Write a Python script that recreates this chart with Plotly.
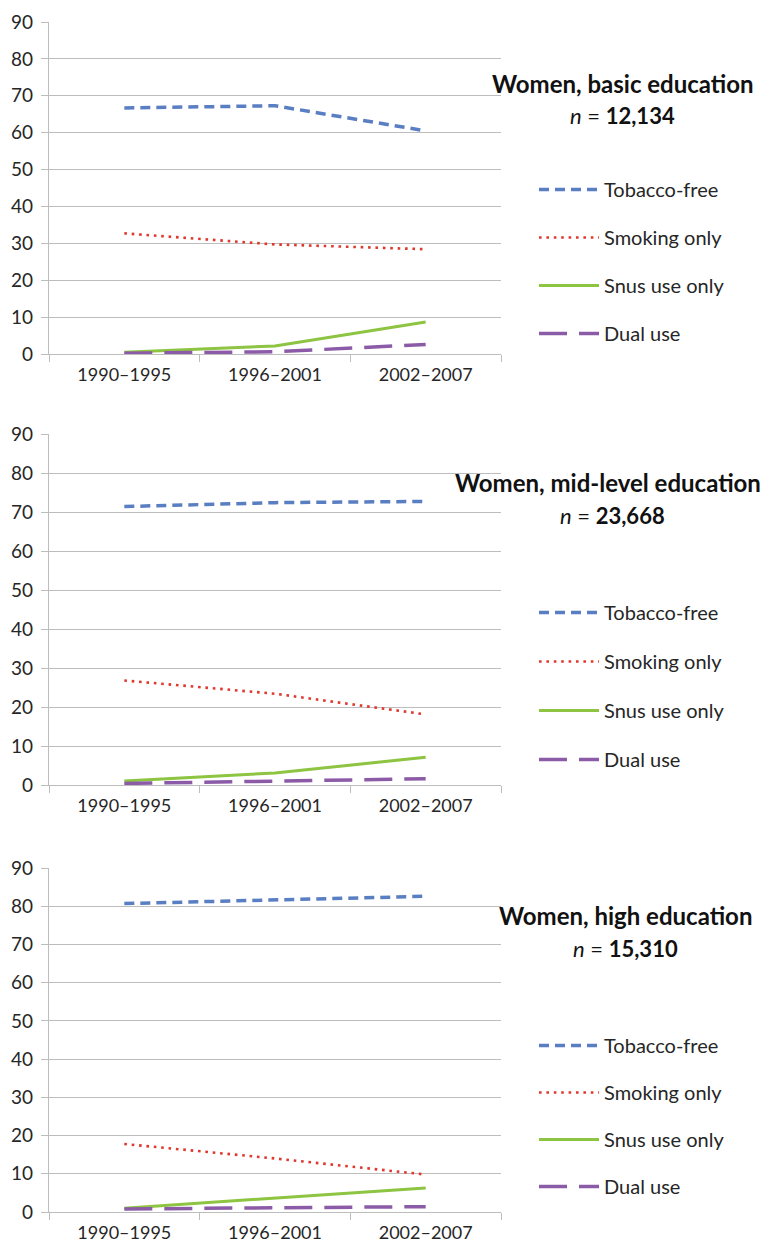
import plotly.graph_objects as go

# ---------------- data ----------------
periods = ["1990–1995", "1996–2001", "2002–2007"]
series_names = ["Tobacco-free", "Smoking only", "Snus use only", "Dual use"]
panel_titles = ["Women, basic education", "Women, mid-level education", "Women, high education"]
panel_n = ["12,134", "23,668", "15,310"]
y_ticks = [0, 10, 20, 30, 40, 50, 60, 70, 80, 90]

basic_tobacco_free = [66.7, 67.3, 60.5]
basic_smoking_only = [32.7, 29.7, 28.4]
basic_snus_only = [0.5, 2.2, 8.7]
basic_dual_use = [0.2, 0.6, 2.6]

mid_tobacco_free = [71.4, 72.4, 72.7]
mid_smoking_only = [26.8, 23.4, 18.1]
mid_snus_only = [1.0, 3.1, 7.1]
mid_dual_use = [0.4, 1.0, 1.6]

high_tobacco_free = [80.7, 81.6, 82.6]
high_smoking_only = [17.8, 14.0, 9.8]
high_snus_only = [1.0, 3.7, 6.3]
high_dual_use = [0.8, 1.0, 1.4]

panels = [
    [basic_tobacco_free, basic_smoking_only, basic_snus_only, basic_dual_use],
    [mid_tobacco_free, mid_smoking_only, mid_snus_only, mid_dual_use],
    [high_tobacco_free, high_smoking_only, high_snus_only, high_dual_use],
]

# ---------------- styles ----------------
W, H = 772, 1244
FONT = "Lato, 'Open Sans', sans-serif"
TEXT = "#262626"
GRID = "#BDBDBD"
line_styles = [
    dict(color="#5A7EC2", width=3.5, dash="10px,6px"),
    dict(color="#E0372E", width=2.6, dash="2.6px,4.8px"),
    dict(color="#8DC441", width=3.0, dash="solid"),
    dict(color="#8B5BA7", width=3.5, dash="28px,12px"),
]

# plot areas in pixels (top, bottom)
plot_left, plot_right = 49, 501
panel_px = [(22, 354), (434, 785), (868, 1212)]
legend_top_px = [170, 593, 1026]
legend_gap = [19, 20, 18]
title_pos = [((623, 83), (622, 115)), ((608, 482), (612, 515)), ((625, 915), (625, 948))]

fig = go.Figure()
legend_keys = ["legend", "legend2", "legend3"]

for p, series in enumerate(panels):
    ax = "" if p == 0 else str(p + 1)
    for s, vals in enumerate(series):
        fig.add_trace(go.Scatter(
            x=periods, y=vals, mode="lines", name=series_names[s],
            line=line_styles[s], xaxis="x" + ax, yaxis="y" + ax,
            legend=legend_keys[p], legendgroup=f"p{p}s{s}",
            showlegend=True, hoverinfo="skip",
        ))

layout = dict(
    width=W, height=H,
    margin=dict(l=0, r=0, t=0, b=0, autoexpand=False),
    paper_bgcolor="white", plot_bgcolor="white",
    font=dict(family=FONT, color=TEXT),
    annotations=[],
)

for p in range(3):
    ax = "" if p == 0 else str(p + 1)
    top, bot = panel_px[p]
    layout["xaxis" + ax] = dict(
        domain=[plot_left / W, plot_right / W], anchor="y" + ax,
        type="category", categoryorder="array", categoryarray=periods,
        range=[-0.5, 2.5], automargin=False,
        showline=True, linecolor=GRID, linewidth=1.2,
        ticks="outside", tickson="boundaries", ticklen=7, tickcolor=GRID, tickwidth=1.2,
        showgrid=False, zeroline=False,
        tickfont=dict(size=18, family=FONT, color=TEXT), ticklabelstandoff=4,
    )
    layout["yaxis" + ax] = dict(
        domain=[1 - bot / H, 1 - top / H], anchor="x" + ax,
        range=[0, 90], tickvals=y_ticks, automargin=False,
        showline=True, linecolor=GRID, linewidth=1.2,
        ticks="outside", ticklen=7, tickcolor=GRID, tickwidth=1.2,
        showgrid=True, gridcolor=GRID, gridwidth=1.2, zeroline=False,
        tickfont=dict(size=19, family=FONT, color=TEXT), ticklabelstandoff=4,
    )
    layout[legend_keys[p]] = dict(
        x=534 / W, y=1 - legend_top_px[p] / H, xanchor="left", yanchor="top",
        bgcolor="rgba(0,0,0,0)", borderwidth=0,
        font=dict(size=20, family=FONT, color=TEXT),
        tracegroupgap=legend_gap[p], itemwidth=60, traceorder="grouped",
    )
    (tx, ty), (nx, ny) = title_pos[p]
    layout["annotations"].append(dict(
        text=f"<b>{panel_titles[p]}</b>", xref="paper", yref="paper",
        x=tx / W, y=1 - ty / H, xanchor="center", yanchor="middle",
        showarrow=False, font=dict(size=24, family=FONT, color="#111111"),
    ))
    layout["annotations"].append(dict(
        text=f"<i>n</i> = <b>{panel_n[p]}</b>", xref="paper", yref="paper",
        x=nx / W, y=1 - ny / H, xanchor="center", yanchor="middle",
        showarrow=False, font=dict(size=22, family=FONT, color="#111111"),
    ))

fig.update_layout(**layout)
fig.write_html("out.html", config={"displayModeBar": False},
               post_script="document.body.style.margin='0';")
